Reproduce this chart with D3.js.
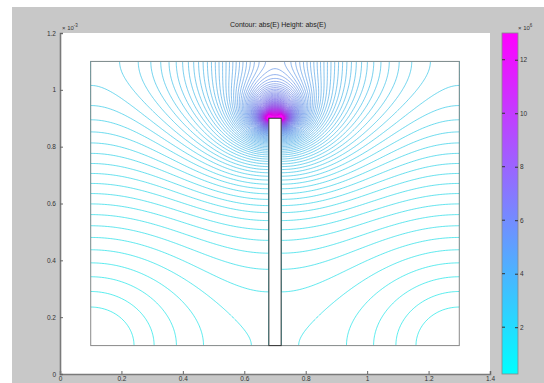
<!DOCTYPE html>
<html>
<head>
<meta charset="utf-8">
<script src="https://cdn.jsdelivr.net/npm/d3@7"></script>
<style>
  body { margin: 0; background: #fff; }
  svg { display: block; font-family: "Liberation Sans", Arial, sans-serif; }
</style>
</head>
<body>
<svg id="chart" width="544" height="383"></svg>
<script>
// axis ticks (x 10^-3) and colour bar ticks (x 10^6)
const xTicks = [0, 0.2, 0.4, 0.6, 0.8, 1, 1.2, 1.4];
const yTicks = [0, 0.2, 0.4, 0.6, 0.8, 1, 1.2];
const barTicks = [2, 4, 6, 8, 10, 12];
const barRange = [0.25, 13];
const levelCount = 120;

// geometry: outer box and the thin electrode standing in it
const boxX = [0.1, 1.3];
const boxY = [0.1, 1.1];
const slotX = [0.68, 0.72];
const slotY = [0.1, 0.9];
const voltage = 1400; // electrode potential, top plate grounded

const svg = d3.select('#chart');
const W = 544, H = 383;

svg.append('rect').attr('width', W).attr('height', H).attr('fill', '#fff');
svg.append('rect').attr('x', 12).attr('y', 7).attr('width', W - 12).attr('height', H - 7).attr('fill', '#c8c8c8');

const xRange = d3.scaleLinear().domain([0, 1.4]).range([60, 490]);
const yRange = d3.scaleLinear().domain([0, 1.2]).range([374, 33]);

svg.append('rect')
  .attr('x', xRange(0)).attr('y', yRange(1.2))
  .attr('width', xRange(1.4) - xRange(0)).attr('height', yRange(0) - yRange(1.2))
  .attr('fill', '#fff');

/**
 * potential: SOR on a grid, electrode fixed at 1, top at 0, other walls insulating
 */
const h = 0.005;
const nx = Math.round((boxX[1] - boxX[0]) / h) + 1;
const ny = Math.round((boxY[1] - boxY[0]) / h) + 1;
const phi = new Float64Array(nx * ny);
const fixed = new Uint8Array(nx * ny);
const inner = new Uint8Array(nx * ny);
const i0 = Math.round((slotX[0] - boxX[0]) / h), i1 = Math.round((slotX[1] - boxX[0]) / h);
const jTop = Math.round((slotY[1] - boxY[0]) / h);
for (let j = 0; j < ny; j++) {
  for (let i = 0; i < nx; i++) {
    let k = j * nx + i;
    phi[k] = 1 - j / (ny - 1);
    if (i >= i0 && i <= i1 && j <= jTop) {
      fixed[k] = 1; phi[k] = 1;
      if (i > i0 && i < i1 && j < jTop) inner[k] = 1;
    }
    if (j == ny - 1) { fixed[k] = 1; phi[k] = 0; }
  }
}
const w = 1.96;
for (let it = 0; it < 2500; it++) {
  for (let j = 0; j < ny - 1; j++) {
    for (let i = 0; i < nx; i++) {
      let k = j * nx + i;
      if (fixed[k]) continue;
      let L = i > 0 ? phi[k - 1] : phi[k + 1];
      let R = i < nx - 1 ? phi[k + 1] : phi[k - 1];
      let D = j > 0 ? phi[k - nx] : phi[k + nx];
      let U = phi[k + nx];
      phi[k] += w * (0.25 * (L + R + D + U) - phi[k]);
    }
  }
}

// abs(E) in units of 10^6 V/m (coordinates are in mm)
const field = new Float64Array(nx * ny);
const ok = (i, j) => i >= 0 && i < nx && j >= 0 && j < ny && !inner[j * nx + i];
for (let j = 0; j < ny; j++) {
  for (let i = 0; i < nx; i++) {
    let k = j * nx + i;
    if (inner[k]) { field[k] = 0; continue; }
    let dx = 0, dy = 0;
    if (i > 0 && i < nx - 1) {
      if (ok(i - 1, j) && ok(i + 1, j)) dx = (phi[k + 1] - phi[k - 1]) / (2 * h);
      else if (ok(i - 1, j)) dx = (phi[k] - phi[k - 1]) / h;
      else dx = (phi[k + 1] - phi[k]) / h;
    }
    if (j > 0) {
      if (j < ny - 1 && ok(i, j - 1) && ok(i, j + 1)) dy = (phi[k + nx] - phi[k - nx]) / (2 * h);
      else if (ok(i, j - 1)) dy = (phi[k] - phi[k - nx]) / h;
      else dy = (phi[k + nx] - phi[k]) / h;
    }
    field[k] = voltage * Math.sqrt(dx * dx + dy * dy) / 1000;
  }
}

const color = d3.scaleLinear().domain(barRange).range(['#00ffff', '#ff00ff']).interpolate(d3.interpolateRgb);
const levels = d3.range(levelCount).map(n => barRange[0] + (barRange[1] - barRange[0]) * n / (levelCount - 1));

const contours = d3.contours().size([nx, ny]).thresholds(levels)(field);
const toScreen = d3.geoTransform({
  point: function (x, y) {
    this.stream.point(xRange(boxX[0] + (x - 0.5) * h), yRange(boxY[0] + (y - 0.5) * h));
  }
});
const path = d3.geoPath(toScreen);

svg.append('clipPath').attr('id', 'box')
  .append('rect')
  .attr('x', xRange(boxX[0])).attr('y', yRange(boxY[1]))
  .attr('width', xRange(boxX[1]) - xRange(boxX[0])).attr('height', yRange(boxY[0]) - yRange(boxY[1]));

const topContour = contours[contours.length - 1];
svg.append('g')
  .attr('clip-path', 'url(#box)')
  .selectAll('path')
  .data(contours)
  .enter()
  .append('path')
  .attr('d', path)
  .attr('fill', d => d === topContour ? color(d.value) : 'none')
  .attr('stroke', d => d3.color(color(d.value)).darker(0.3))
  .attr('stroke-width', 0.65);

// geometry outline
svg.append('rect')
  .attr('x', xRange(boxX[0])).attr('y', yRange(boxY[1]))
  .attr('width', xRange(boxX[1]) - xRange(boxX[0])).attr('height', yRange(boxY[0]) - yRange(boxY[1]))
  .attr('fill', 'none').attr('stroke', '#8a8a8a').attr('stroke-width', 1);
svg.append('rect')
  .attr('x', xRange(slotX[0])).attr('y', yRange(slotY[1]))
  .attr('width', xRange(slotX[1]) - xRange(slotX[0])).attr('height', yRange(slotY[0]) - yRange(slotY[1]))
  .attr('fill', '#fff').attr('stroke', '#333').attr('stroke-width', 1);

/**
 * axes
 */
const tickFont = '6.5px';
const xAxisg = svg.append('g').attr('transform', 'translate(0,' + yRange(0) + ')')
  .call(d3.axisBottom(xRange).tickValues(xTicks).tickSize(-3).tickFormat(d3.format('')));
xAxisg.selectAll('.tick text').attr('y', 2).style('font-size', tickFont).attr('fill', '#333');
xAxisg.selectAll('line').attr('stroke', '#666');
xAxisg.select('path').attr('stroke', '#7a7a7a').attr('stroke-width', 1.6);

const yAxisg = svg.append('g').attr('transform', 'translate(' + xRange(0) + ',0)')
  .call(d3.axisLeft(yRange).tickValues(yTicks).tickSize(-3).tickFormat(d3.format('')));
yAxisg.selectAll('.tick text').attr('x', -4).style('font-size', tickFont).attr('fill', '#333');
yAxisg.selectAll('line').attr('stroke', '#666');
yAxisg.select('path').attr('stroke', '#7a7a7a').attr('stroke-width', 1.6);

svg.append('text').attr('x', xRange(0) + 2).attr('y', 30).style('font-size', '6px').attr('fill', '#333')
  .text('× 10').append('tspan').attr('dy', -3).style('font-size', '4.5px').text('-3');

svg.append('text').attr('x', 278).attr('y', 27).attr('text-anchor', 'middle')
  .style('font-size', '7px').attr('fill', '#222')
  .text('Contour: abs(E)  Height: abs(E)');

/**
 * colour bar
 */
const barY = d3.scaleLinear().domain(barRange).range([374, 33]);
const grad = svg.append('defs').append('linearGradient').attr('id', 'cool')
  .attr('x1', 0).attr('y1', 1).attr('x2', 0).attr('y2', 0);
grad.append('stop').attr('offset', 0).attr('stop-color', '#00ffff');
grad.append('stop').attr('offset', 1).attr('stop-color', '#ff00ff');
svg.append('rect').attr('x', 502).attr('y', barY(barRange[1])).attr('width', 16)
  .attr('height', barY(barRange[0]) - barY(barRange[1]))
  .attr('fill', 'url(#cool)').attr('stroke', '#888').attr('stroke-width', 0.8);
const barAxisg = svg.append('g').attr('transform', 'translate(518,0)')
  .call(d3.axisRight(barY).tickValues(barTicks).tickSize(-3).tickFormat(d3.format('d')));
barAxisg.select('path').remove();
barAxisg.selectAll('line').attr('stroke', '#333');
barAxisg.selectAll('.tick text').attr('x', 2).style('font-size', tickFont).attr('fill', '#333');
svg.selectAll('.barLeft').data(barTicks).enter().append('line')
  .attr('x1', 502).attr('x2', 505).attr('y1', d => barY(d)).attr('y2', d => barY(d))
  .attr('stroke', '#333');
svg.append('text').attr('x', 518).attr('y', 30).style('font-size', '6px').attr('fill', '#333')
  .text('× 10').append('tspan').attr('dy', -3).style('font-size', '4.5px').text('6');
</script>
</body>
</html>
